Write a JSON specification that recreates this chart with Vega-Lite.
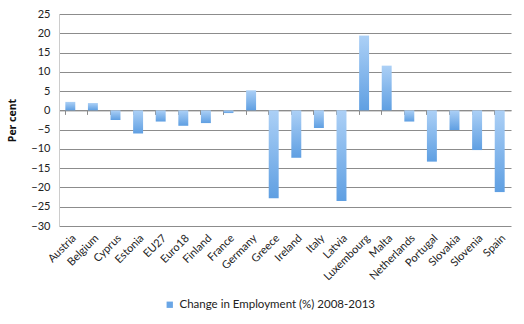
{
  "$schema": "https://vega.github.io/schema/vega-lite/v6.json",
  "width": 452,
  "height": 212,
  "autosize": "none",
  "padding": {"left": 59, "top": 14, "right": 13, "bottom": 98},
  "background": "white",
  "config": {
    "view": {"stroke": null},
    "font": "Lato",
    "axis": {"labelFont": "Lato", "titleFont": "Open Sans", "labelColor": "#222", "titleColor": "#111"}
  },
  "data": {
    "values": [
      {"country": "Austria", "change": 2.2},
      {"country": "Belgium", "change": 1.9},
      {"country": "Cyprus", "change": -2.5},
      {"country": "Estonia", "change": -6.0},
      {"country": "EU27", "change": -2.9},
      {"country": "Euro18", "change": -4.0},
      {"country": "Finland", "change": -3.3},
      {"country": "France", "change": -0.7},
      {"country": "Germany", "change": 5.2},
      {"country": "Greece", "change": -22.8},
      {"country": "Ireland", "change": -12.3},
      {"country": "Italy", "change": -4.6},
      {"country": "Latvia", "change": -23.5},
      {"country": "Luxembourg", "change": 19.4},
      {"country": "Malta", "change": 11.6},
      {"country": "Netherlands", "change": -2.9},
      {"country": "Portugal", "change": -13.3},
      {"country": "Slovakia", "change": -5.1},
      {"country": "Slovenia", "change": -10.3},
      {"country": "Spain", "change": -21.2}
    ]
  },
  "encoding": {
    "x": {
      "field": "country",
      "type": "nominal",
      "sort": null,
      "scale": {"paddingInner": 0.56, "paddingOuter": 0.28}
    },
    "y": {
      "field": "change",
      "type": "quantitative",
      "scale": {"domain": [-30, 25], "nice": false},
      "axis": {
        "title": "Per cent",
        "titleFontSize": 10.5,
        "titleFontWeight": "bold",
        "titlePadding": 13,
        "values": [-30, -25, -20, -15, -10, -5, 0, 5, 10, 15, 20, 25],
        "labelOverlap": false,
        "labelFontSize": 11,
        "labelPadding": 9,
        "ticks": false,
        "domainColor": "#cccccc",
        "gridColor": "#8c8c8c",
        "gridWidth": 1
      }
    }
  },
  "layer": [
    {
      "mark": {
        "type": "bar",
        "fill": {
          "gradient": "linear",
          "x1": 0, "y1": 0, "x2": 0, "y2": 1,
          "stops": [
            {"offset": 0, "color": "#acd0f6"},
            {"offset": 1, "color": "#5f9fe2"}
          ]
        }
      },
      "encoding": {
        "x": {
          "field": "country",
          "type": "nominal",
          "sort": null,
          "axis": {
            "orient": "bottom",
            "title": null,
            "labelAngle": -45,
            "labelAlign": "right",
            "labelBaseline": "top",
            "labelFontSize": 11,
            "labelPadding": 6,
            "ticks": false,
            "domain": false,
            "grid": false
          }
        }
      }
    },
    {
      "mark": {"type": "point", "opacity": 0, "filled": true},
      "encoding": {
        "x": {
          "field": "country",
          "type": "nominal",
          "sort": null,
          "axis": {
            "orient": "bottom",
            "offset": -115.6,
            "title": null,
            "labels": false,
            "ticks": true,
            "bandPosition": 0,
            "tickSize": 4,
            "tickColor": "#8c8c8c",
            "domain": true,
            "domainColor": "#8c8c8c",
            "grid": false
          }
        },
        "color": {
          "datum": "Change in Employment (%) 2008-2013",
          "type": "nominal",
          "scale": {"range": ["#6aa6e6"]},
          "legend": {
            "title": null,
            "orient": "none",
            "legendX": 105,
            "legendY": 285,
            "symbolType": "square",
            "symbolSize": 40,
            "symbolOpacity": 1,
            "symbolStrokeWidth": 0,
            "labelFontSize": 11.5,
            "labelFont": "Lato",
            "labelColor": "#222",
            "labelOffset": 4,
            "labelLimit": 400
          }
        }
      }
    }
  ],
  "resolve": {"axis": {"x": "independent"}}
}
